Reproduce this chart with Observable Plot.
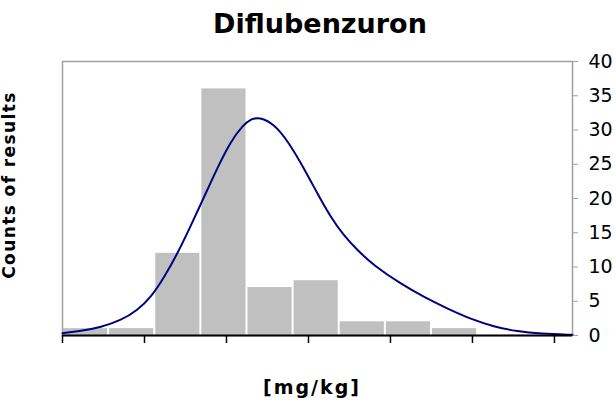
<!DOCTYPE html>
<html>
<head>
<meta charset="utf-8">
<script src="https://cdn.jsdelivr.net/npm/d3@7"></script>
<script src="https://cdn.jsdelivr.net/npm/@observablehq/plot@0.6"></script>
<style>
  html, body { margin: 0; padding: 0; background: #fff; }
  #wrap { position: relative; width: 616px; height: 403px; overflow: hidden; font-family: "DejaVu Sans", Verdana, sans-serif; }
  #title { position: absolute; left: 12px; top: 10px; width: 616px; text-align: center; font-weight: bold; font-size: 27px; line-height: 1; }
  #xlabel { position: absolute; left: 4px; top: 378px; width: 616px; text-align: center; font-weight: bold; font-size: 19px; letter-spacing: 2px; line-height: 1; }
  #ylabel { position: absolute; left: 9px; top: 185px; transform: translate(-50%, -50%) rotate(-90deg); white-space: nowrap; font-weight: bold; font-size: 17px; letter-spacing: 1.4px; line-height: 1; }
  #chart { position: absolute; left: 0; top: 50px; }
</style>
</head>
<body>
<div id="wrap">
  <div id="title">Diflubenzuron</div>
  <div id="chart"></div>
  <div id="ylabel">Counts of results</div>
  <div id="xlabel">[mg/kg]</div>
</div>
<script>
// Histogram bins (x in tick units) and counts
const binEdges = [0, 0.5625, 1.125, 1.6875, 2.25, 2.8125, 3.375, 3.9375, 4.5, 5.0625, 5.625, 6.1875];
const counts = [1, 1, 12, 36, 7, 8, 2, 2, 1, 0, 0];

// Fitted curve
const curveX = [0, 0.22, 0.47, 0.71, 0.91, 1.08, 1.24, 1.40, 1.56, 1.73, 1.89, 2.05, 2.20, 2.30, 2.40, 2.58, 2.76, 2.95, 3.11, 3.27, 3.43, 3.60, 3.80, 4.13, 4.41, 4.70, 4.98, 5.26, 5.55, 5.83, 6.22];
const curveY = [0.34, 0.63, 1.21, 2.19, 3.65, 5.6, 8.5, 11.9, 15.9, 20.3, 24.5, 28.3, 30.7, 31.6, 31.9, 30.9, 28.2, 24.3, 20.7, 17.3, 14.6, 12.4, 10.2, 7.5, 5.6, 3.9, 2.4, 1.3, 0.58, 0.25, 0.1];

const xTicks = [0, 1, 2, 3, 4, 5, 6];
const yTicks = [0, 5, 10, 15, 20, 25, 30, 35, 40];
const xDomain = [0, 6.22];
const yDomain = [0, 40];

const bars = counts.map((c, i) => ({x1: binEdges[i], x2: binEdges[i + 1], count: c}));
const curve = curveX.map((x, i) => ({x, y: curveY[i]}));

const chart = Plot.plot({
  width: 616,
  height: 310,
  marginLeft: 62,
  marginRight: 44,
  marginTop: 11,
  marginBottom: 25,
  style: {fontFamily: "'DejaVu Sans', Verdana, sans-serif", fontSize: "19px", color: "#000", background: "#fff"},
  x: {domain: xDomain},
  y: {domain: yDomain},
  marks: [
    Plot.frame({stroke: "#a0a0a0", strokeWidth: 1.5}),
    Plot.rectY(bars, {x1: "x1", x2: "x2", y: "count", fill: "#c0c0c0", insetLeft: 1, insetRight: 1}),
    Plot.line(curve, {x: "x", y: "y", curve: "basis", stroke: "#000080", strokeWidth: 2}),
    Plot.axisY({anchor: "right", ticks: yTicks, tickSize: 5, tickPadding: 11, stroke: "#a0a0a0", fill: "#000", fontSize: 19, label: null}),
    Plot.axisX({ticks: xTicks, tickFormat: () => "", tickSize: 8, stroke: "#000", strokeWidth: 1.5, label: null}),
    Plot.ruleY([0], {stroke: "#000", strokeWidth: 2})
  ]
});
document.getElementById("chart").appendChild(chart);
</script>
</body>
</html>
